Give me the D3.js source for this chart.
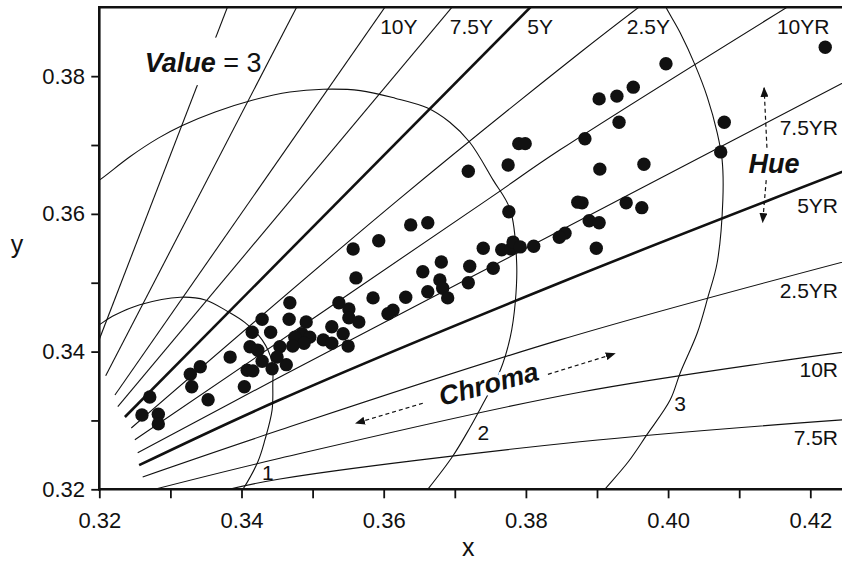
<!DOCTYPE html>
<html>
<head>
<meta charset="utf-8">
<script src="https://cdnjs.cloudflare.com/ajax/libs/d3/7.8.5/d3.min.js"></script>
<style>
body { margin: 0; background: #fff; }
text { font-family: "Liberation Sans", Arial, sans-serif; fill: #111; }
</style>
</head>
<body>
<svg width="842" height="564"></svg>
<script>
"use strict";

// samples, CIE x / y
var sampleX = [0.4221,0.3997,0.3903,0.3928,0.3951,0.3931,0.3883,0.4079,0.4074,0.3904,0.3966,0.3879,0.3941,0.3963,0.3889,0.3903,0.3855,0.3847,0.3899,0.3790,0.3799,0.3775,0.3719,0.3873,0.3776,0.3638,0.3662,0.3593,0.3557,0.3740,0.3766,0.3779,0.3782,0.3792,0.3811,0.3681,0.3655,0.3721,0.3754,0.3561,0.3679,0.3719,0.3683,0.3690,0.3662,0.3631,0.3585,0.3613,0.3606,0.3468,0.3537,0.3551,0.3467,0.3491,0.3551,0.3565,0.3527,0.3543,0.3485,0.3496,0.3475,0.3515,0.3527,0.3488,0.3472,0.3550,0.3454,0.3463,0.3429,0.3415,0.3441,0.3412,0.3423,0.3384,0.3429,0.3443,0.3408,0.3416,0.3450,0.3342,0.3328,0.3330,0.3404,0.3271,0.3353,0.3260,0.3283,0.3283];
var sampleY = [0.3842,0.3818,0.3767,0.3771,0.3784,0.3733,0.3709,0.3733,0.3690,0.3665,0.3672,0.3616,0.3616,0.3609,0.3590,0.3587,0.3572,0.3566,0.3550,0.3702,0.3702,0.3671,0.3662,0.3617,0.3603,0.3584,0.3587,0.3561,0.3549,0.3550,0.3548,0.3549,0.3559,0.3552,0.3553,0.3530,0.3516,0.3524,0.3521,0.3507,0.3504,0.3500,0.3492,0.3478,0.3487,0.3479,0.3478,0.3460,0.3455,0.3471,0.3471,0.3462,0.3447,0.3443,0.3449,0.3443,0.3436,0.3426,0.3426,0.3421,0.3421,0.3417,0.3412,0.3412,0.3408,0.3408,0.3407,0.3381,0.3447,0.3428,0.3428,0.3407,0.3402,0.3392,0.3386,0.3375,0.3373,0.3372,0.3392,0.3378,0.3367,0.3349,0.3349,0.3334,0.3330,0.3308,0.3309,0.3295];

// Munsell hue loci at value 3
var hueNames = ["2.5GY", "5GY", "10Y", "7.5Y", "5Y", "2.5Y", "10YR", "7.5YR", "5YR", "2.5YR", "10R", "7.5R"];
var hueLines = [
  [[0.3190,0.3391],[0.3382,0.3905]],
  [[0.3209,0.3365],[0.3480,0.3905]],
  [[0.3222,0.3337],[0.3605,0.3905]],
  [[0.3226,0.3320],[0.3700,0.3905]],
  [[0.3236,0.3305],[0.3811,0.3905]],
  [[0.3245,0.3289],[0.3620,0.3620],[0.3876,0.3834],[0.3965,0.3905]],
  [[0.3250,0.3272],[0.3745,0.3620],[0.3848,0.3693],[0.4175,0.3905]],
  [[0.3254,0.3253],[0.3454,0.3363],[0.3923,0.3616],[0.4260,0.3798]],
  [[0.3256,0.3235],[0.3454,0.3330],[0.3848,0.3500],[0.4260,0.3667]],
  [[0.3261,0.3218],[0.3454,0.3286],[0.3848,0.3417],[0.4260,0.3534]],
  [[0.3270,0.3198],[0.3454,0.3245],[0.3876,0.3341],[0.4260,0.3401]],
  [[0.3370,0.3197],[0.3454,0.3215],[0.3876,0.3269],[0.4260,0.3302]]
];
var majorHues = ["5Y", "5YR"];
var topLabels = ["10Y", "7.5Y", "5Y", "2.5Y", "10YR"];
var topLabelX = [0.3595, 0.3693, 0.3802, 0.3942, 0.4153];
var sideLabels = ["7.5YR", "5YR", "2.5YR", "10R", "7.5R"];
var sideLabelY = [0.3715, 0.3601, 0.3478, 0.3363, 0.3264];

// chroma loci at value 3
var chromaNames = ["1", "2", "3"];
var chromaArcs = [
  [[0.3187,0.3430],[0.3200,0.3439],[0.3222,0.3453],[0.3257,0.3468],[0.3314,0.3479],[0.3349,0.3475],[0.3381,0.3458],[0.3405,0.3442],[0.3429,0.3417],[0.3443,0.3385],[0.3444,0.3351],[0.3443,0.3315],[0.3433,0.3272],[0.3423,0.3240],[0.3402,0.3200],[0.3395,0.3190]],
  [[0.3187,0.3641],[0.3200,0.3649],[0.3243,0.3683],[0.3283,0.3710],[0.3316,0.3728],[0.3363,0.3748],[0.3415,0.3765],[0.3468,0.3777],[0.3515,0.3781],[0.3567,0.3779],[0.3616,0.3768],[0.3661,0.3754],[0.3693,0.3733],[0.3721,0.3704],[0.3754,0.3649],[0.3778,0.3606],[0.3787,0.3529],[0.3785,0.3471],[0.3778,0.3421],[0.3764,0.3373],[0.3740,0.3325],[0.3721,0.3289],[0.3697,0.3248],[0.3662,0.3200],[0.3654,0.3190]],
  [[0.3989,0.3918],[0.3997,0.3900],[0.4017,0.3863],[0.4038,0.3816],[0.4055,0.3770],[0.4069,0.3718],[0.4076,0.3678],[0.4077,0.3620],[0.4069,0.3529],[0.4056,0.3479],[0.4041,0.3427],[0.4017,0.3369],[0.4003,0.3330],[0.3970,0.3279],[0.3944,0.3240],[0.3911,0.3200],[0.3903,0.3190]]
];
var chromaLabelX = [0.3437, 0.3740, 0.4017];
var chromaLabelY = [0.3214, 0.3272, 0.3314];

var xMajor = [0.32, 0.34, 0.36, 0.38, 0.40, 0.42];
var xMinor = [0.33, 0.35, 0.37, 0.39, 0.41];
var yMajor = [0.32, 0.34, 0.36, 0.38];
var yMinor = [0.33, 0.35, 0.37];

var svg = d3.select("svg"),
    width = +svg.attr("width");

var x = d3.scaleLinear().domain([0.32, 0.42]).range([99.3, 810.3]),
    y = d3.scaleLinear().domain([0.32, 0.39]).range([489.3, 7.3]);

var plotLeft = x(0.32), plotBottom = y(0.32), plotTop = y(0.39);

svg.append("defs").append("clipPath").attr("id", "plot")
  .append("rect")
    .attr("x", plotLeft).attr("y", plotTop)
    .attr("width", width - plotLeft).attr("height", plotBottom - plotTop);

svg.select("defs").append("marker")
    .attr("id", "head")
    .attr("viewBox", "0 0 10 8")
    .attr("refX", 9).attr("refY", 4)
    .attr("markerWidth", 10).attr("markerHeight", 8)
    .attr("markerUnits", "userSpaceOnUse")
    .attr("orient", "auto")
  .append("path")
    .attr("d", "M0,0L10,4L0,8Z")
    .attr("fill", "#111");

var line = d3.line()
    .curve(d3.curveCatmullRom.alpha(0.5))
    .x(function(d) { return x(d[0]); })
    .y(function(d) { return y(d[1]); });

var g = svg.append("g").attr("clip-path", "url(#plot)");

g.selectAll(".hue")
    .data(hueLines)
  .enter().append("path")
    .attr("class", "hue")
    .attr("d", line)
    .attr("fill", "none")
    .attr("stroke", "#111")
    .attr("stroke-width", function(d, i) { return majorHues.indexOf(hueNames[i]) >= 0 ? 2.6 : 1.1; });

g.selectAll(".chroma")
    .data(chromaArcs)
  .enter().append("path")
    .attr("class", "chroma")
    .attr("d", line)
    .attr("fill", "none")
    .attr("stroke", "#111")
    .attr("stroke-width", 1.1);

// white box behind the value caption
svg.append("rect")
    .attr("x", x(0.3250)).attr("y", y(0.3856))
    .attr("width", x(0.3412) - x(0.3250))
    .attr("height", y(0.3787) - y(0.3856))
    .attr("fill", "#fff");

// dashed arrows
var arrows = [
  [[0.4139, 0.3696], [0.4135, 0.3783]],
  [[0.4138, 0.3649], [0.4133, 0.3588]],
  [[0.3655, 0.3325], [0.3561, 0.3296]],
  [[0.3831, 0.3367], [0.3925, 0.3397]]
];
svg.selectAll(".arrow")
    .data(arrows)
  .enter().append("line")
    .attr("class", "arrow")
    .attr("x1", function(d) { return x(d[0][0]); })
    .attr("y1", function(d) { return y(d[0][1]); })
    .attr("x2", function(d) { return x(d[1][0]); })
    .attr("y2", function(d) { return y(d[1][1]); })
    .attr("stroke", "#111")
    .attr("stroke-width", 1.2)
    .attr("stroke-dasharray", "4,3")
    .attr("marker-end", "url(#head)");

svg.selectAll(".dot")
    .data(sampleX)
  .enter().append("circle")
    .attr("class", "dot")
    .attr("cx", function(d) { return x(d); })
    .attr("cy", function(d, i) { return y(sampleY[i]); })
    .attr("r", 6.7)
    .attr("fill", "#111");

// hue labels
svg.selectAll(".toplab")
    .data(topLabels)
  .enter().append("text")
    .attr("class", "toplab")
    .attr("x", function(d, i) { return x(topLabelX[i]); })
    .attr("y", y(0.3861))
    .style("font-size", "21px")
    .text(function(d) { return d; });

svg.selectAll(".sidelab")
    .data(sideLabels)
  .enter().append("text")
    .attr("class", "sidelab")
    .attr("x", x(0.4239))
    .attr("y", function(d, i) { return y(sideLabelY[i]); })
    .attr("text-anchor", "end")
    .style("font-size", "21px")
    .text(function(d) { return d; });

svg.selectAll(".chromalab")
    .data(chromaNames)
  .enter().append("text")
    .attr("class", "chromalab")
    .attr("x", function(d, i) { return x(chromaLabelX[i]); })
    .attr("y", function(d, i) { return y(chromaLabelY[i]); })
    .attr("text-anchor", "middle")
    .style("font-size", "21px")
    .text(function(d) { return d; });

var value = svg.append("text")
    .attr("x", x(0.3264)).attr("y", y(0.3806))
    .style("font-size", "27px");
value.append("tspan").style("font-weight", "bold").style("font-style", "italic").text("Value");
value.append("tspan").text(" = 3");

svg.append("text")
    .attr("x", x(0.4149)).attr("y", y(0.3659))
    .attr("text-anchor", "middle")
    .style("font-size", "27px").style("font-weight", "bold").style("font-style", "italic")
    .text("Hue");

svg.append("text")
    .attr("transform", "translate(" + x(0.3751) + "," + y(0.3340) + ") rotate(-15)")
    .attr("text-anchor", "middle")
    .style("font-size", "27px").style("font-weight", "bold").style("font-style", "italic")
    .style("stroke", "#fff").style("stroke-width", 7).style("paint-order", "stroke")
    .text("Chroma");

// axes
var fmt = d3.format(".2f");

svg.append("g")
    .attr("transform", "translate(0," + plotBottom + ")")
    .call(d3.axisBottom(x)
      .tickValues(xMajor.concat(xMinor))
      .tickSize(9).tickSizeOuter(0).tickPadding(13.6)
      .tickFormat(function(d) { return xMajor.indexOf(d) >= 0 ? fmt(d) : ""; }));

svg.append("g")
    .attr("transform", "translate(" + plotLeft + ",0)")
    .call(d3.axisLeft(y)
      .tickValues(yMajor.concat(yMinor))
      .tickSize(8).tickSizeOuter(0).tickPadding(6.3)
      .tickFormat(function(d) { return yMajor.indexOf(d) >= 0 ? fmt(d) : ""; }));

svg.selectAll(".domain").remove();
svg.selectAll(".tick line").attr("stroke", "#111").attr("stroke-width", 1.8);
svg.selectAll(".tick text")
    .attr("fill", "#111")
    .style("font-family", "'Liberation Sans', Arial, sans-serif")
    .style("font-size", "22px");

// frame
[[plotLeft, plotTop, width, plotTop], [plotLeft, plotBottom, width, plotBottom], [plotLeft, plotTop, plotLeft, plotBottom]].forEach(function(s) {
  svg.append("line")
      .attr("x1", s[0]).attr("y1", s[1]).attr("x2", s[2]).attr("y2", s[3])
      .attr("stroke", "#111")
      .attr("stroke-width", 2.6)
      .attr("stroke-linecap", "square");
});

svg.append("text")
    .attr("x", x(0.3719)).attr("y", 556)
    .attr("text-anchor", "middle")
    .style("font-size", "25px")
    .text("x");

svg.append("text")
    .attr("x", 17).attr("y", 253)
    .attr("text-anchor", "middle")
    .style("font-size", "25px")
    .text("y");
</script>
</body>
</html>
